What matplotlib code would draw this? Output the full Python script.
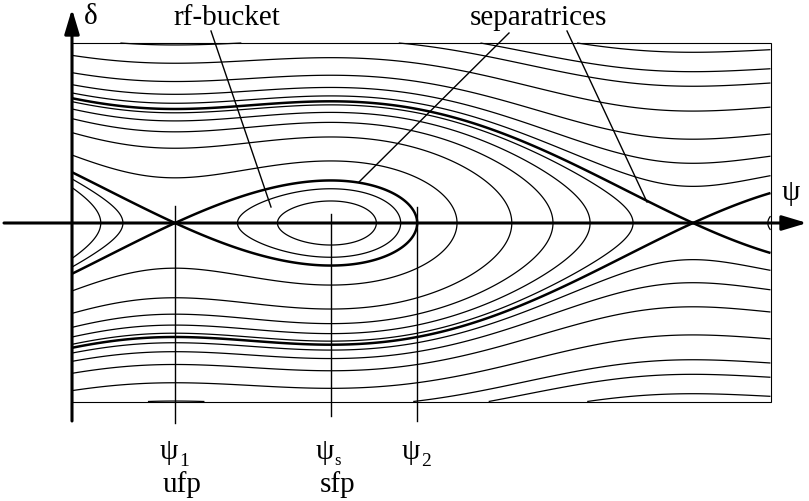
import numpy as np
import matplotlib
matplotlib.use("Agg")
import matplotlib.pyplot as plt
from matplotlib.patches import Rectangle

# ---------------- data ----------------
psi_s = -0.6265                      # synchronous phase (rad)
# contour levels of H = delta^2/2 - cos(psi) - psi*sin(psi_s)
inner_levels = [-1.04, -0.845]                       # inside bucket / left fishes
open_levels = [-0.086, 0.92, 1.692, 2.29, 2.778]      # between the two separatrices
outer_levels = [3.40, 4.03, 5.01, 6.57, 8.32, 9.51, 11.28]  # outside both
labels_top = ["rf-bucket", "separatrices"]
labels_bottom = [("ψ", "1", "ufp"), ("ψ", "s", "sfp"), ("ψ", "2", "")]

# ---------------- layout helpers (pixels -> data) ----------------
W, Hh = 809, 502
PX0, PXR = 330.7, 82.44     # pixel of psi_s, pixels per radian
PY0, PYR = 224.0, 42.0      # pixel of delta=0, pixels per unit delta


def X(px):
    return psi_s + (px - PX0) / PXR


def Y(py):
    return (PY0 - py) / PYR


def V(phi):
    return -np.cos(phi) - phi * np.sin(psi_s)


psi_1 = -np.pi - psi_s
psi_u2 = psi_1 + 2 * np.pi
V1, V2 = V(psi_1), V(psi_u2)
# psi_2: other end of the bucket, V(psi_2) = V1
lo, hi = psi_s, psi_s + np.pi
for _ in range(80):
    mid = 0.5 * (lo + hi)
    if V(mid) < V1:
        lo = mid
    else:
        hi = mid
psi_2 = 0.5 * (lo + hi)

fig = plt.figure(figsize=(W / 100, Hh / 100), dpi=100)
ax = fig.add_axes([0, 0, 1, 1])
ax.set_xlim(X(0), X(W))
ax.set_ylim(Y(Hh), Y(0))
ax.axis("off")

# box
bx0, bx1, by0, by1 = X(72), X(770.5), Y(402.5), Y(44)
ax.add_patch(Rectangle((bx0, by0), bx1 - bx0, by1 - by0, fill=False,
                       lw=0.8, ec="k", zorder=3))

phi = np.linspace(bx0, bx1, 1600)
dl = np.linspace(by0, by1, 1000)
P, D = np.meshgrid(phi, dl)
Ham = 0.5 * D ** 2 + V(P)

thin = sorted(inner_levels + open_levels + outer_levels)
ax.contour(P, D, Ham, levels=thin, colors="k", linewidths=0.9,
           linestyles="solid", negative_linestyles="solid")
ax.contour(P, D, Ham, levels=[V1, V2], colors="k", linewidths=1.8,
           linestyles="solid", negative_linestyles="solid")

# coordinate axes with arrows
arrow = dict(arrowstyle="-|>,head_length=1.0,head_width=0.3",
             lw=2.2, color="k", shrinkA=0, shrinkB=0, mutation_scale=15)
ax.annotate("", xy=(X(807), 0), xytext=(X(4), 0), arrowprops=arrow, zorder=5)
ax.annotate("", xy=(X(72), Y(10)), xytext=(X(72), Y(422)), arrowprops=arrow,
            zorder=5)

font = dict(family="Liberation Serif", color="k")
FS = 21
ax.text(X(84), Y(17), "δ", fontsize=FS, ha="left", va="center", **font)
ax.text(X(791), Y(193), "ψ", fontsize=FS, ha="center", va="center", **font)

# fixed point markers
for xv, ytop, ybot in [(psi_1, 207, 424), (psi_s, 215, 417), (psi_2, 208, 422)]:
    ax.plot([xv, xv], [Y(ytop), Y(ybot)], color="k", lw=1.0, zorder=4)

dx = X(1) - X(0)
for xv, (g, sub, name) in zip([psi_1, psi_s, psi_2], labels_bottom):
    ax.text(xv + 3 * dx, Y(452), g, fontsize=FS, ha="right",
            va="center", **font)
    ax.text(xv + 4 * dx, Y(461), sub, fontsize=14 if sub != "s" else 12,
            ha="left", va="center", **font)
    if name:
        ax.text(xv + 7 * dx, Y(485), name, fontsize=FS, ha="center",
                va="center", **font)

# top labels with leaders
ax.text(X(227), Y(18), labels_top[0], fontsize=FS, ha="center", va="center", **font)
ax.plot([X(211), X(271)], [Y(32), Y(208)], color="k", lw=1.0)
ax.text(X(538), Y(18), labels_top[1], fontsize=FS, ha="center", va="center", **font)
ax.plot([X(509), X(359)], [Y(34), Y(183)], color="k", lw=1.0)
ax.plot([X(567), X(647)], [Y(32), Y(203)], color="k", lw=1.0)

fig.savefig("out.png", dpi=100, facecolor="white")
